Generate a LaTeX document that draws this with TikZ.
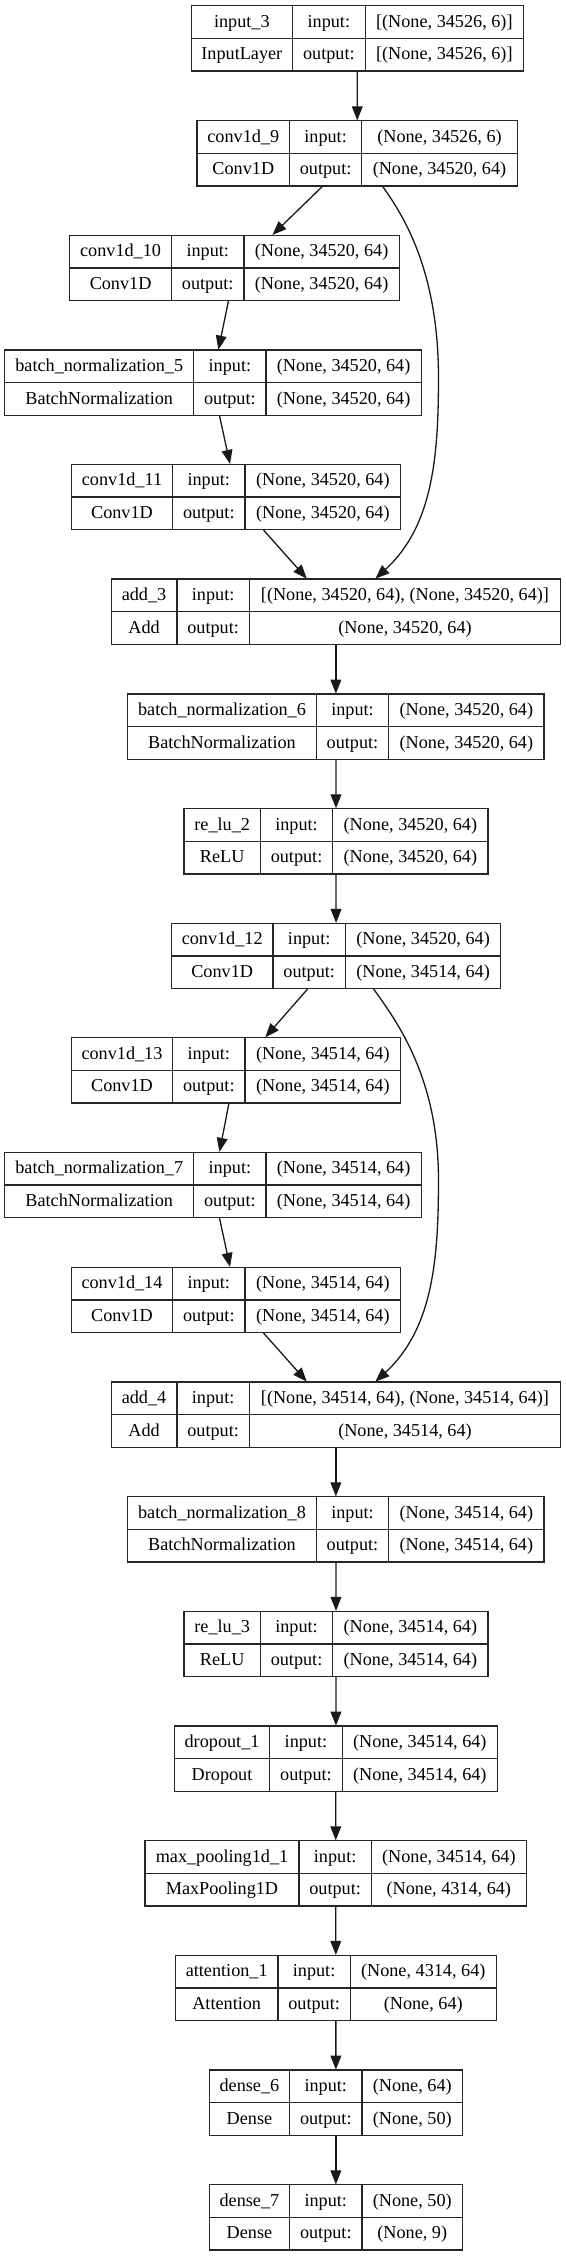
\documentclass[tikz,border=0pt]{standalone}
\usepackage{fontspec}
\setmainfont{Liberation Serif}
\usetikzlibrary{fit,arrows.meta}
\newcommand\lbl{\fontsize{9.1pt}{11pt}\selectfont}
\tikzset{
  boxline/.style={line width=0.65pt,draw=black!85},
  txt/.style={font=\lbl,inner sep=0pt,text height=0.7em,text depth=0.2em},
  edge/.style={line width=0.65pt,draw=black!90,-{Triangle[length=7pt,width=5.4pt]}},
}
% #1 name, #2 x1, #3 x2, #4 x3, #5 x4, #6 ytop, #7 label, #8 type
\newcommand\layer[8]{%
  \draw[boxline] (#2,#6) rectangle (#5,{#6+65.3});
  \draw[boxline] (#2,{#6+32.65}) -- (#5,{#6+32.65});
  \draw[boxline] (#3,#6) -- (#3,{#6+65.3});
  \draw[boxline] (#4,#6) -- (#4,{#6+65.3});
  \node[txt] (#1-name) at ({(#2+#3)/2},{#6+16.3}) {#7};
  \node[txt] (#1-type) at ({(#2+#3)/2},{#6+49}) {#8};
  \node[txt] (#1-in) at ({(#3+#4)/2},{#6+16.3}) {input:};
  \node[txt] (#1-out) at ({(#3+#4)/2},{#6+49}) {output:};
  \coordinate (#1-v1) at ({(#4+#5)/2},{#6+16.3});
  \coordinate (#1-v2) at ({(#4+#5)/2},{#6+49});
  \node[fit={(#2,#6)({#5},{#6+65.3})},inner sep=0pt,draw=none] (#1) {};
}
\newcommand\vals[3]{%
  \node[txt] at (#1-v1) {#2};
  \node[txt] at (#1-v2) {#3};
}
\begin{document}
\begin{tikzpicture}[x=0.5pt,y=-0.5pt]
\useasboundingbox (0,0) rectangle (566,2256);
\fill[white] (0,0) rectangle (566,2256);

\layer{input3}{191.3}{292.4}{365.3}{523.4}{5.7}{input\_3}{InputLayer}
\vals{input3}{[(None, 34526, 6)]}{[(None, 34526, 6)]}
\layer{conv9}{197.1}{289.5}{361.7}{517.3}{120.7}{conv1d\_9}{Conv1D}
\vals{conv9}{(None, 34526, 6)}{(None, 34520, 64)}
\layer{conv10}{69.7}{171.5}{244}{399.2}{235.3}{conv1d\_10}{Conv1D}
\vals{conv10}{(None, 34520, 64)}{(None, 34520, 64)}
\layer{bn5}{4.7}{193.8}{266}{421.3}{350}{batch\_normalization\_5}{BatchNormalization}
\vals{bn5}{(None, 34520, 64)}{(None, 34520, 64)}
\layer{conv11}{71.5}{172.5}{245.1}{400.7}{464.3}{conv1d\_11}{Conv1D}
\vals{conv11}{(None, 34520, 64)}{(None, 34520, 64)}
\layer{add3}{111.2}{176.9}{249.4}{560.6}{579}{add\_3}{Add}
\vals{add3}{[(None, 34520, 64), (None, 34520, 64)]}{(None, 34520, 64)}
\layer{bn6}{127.8}{316.2}{388.8}{544}{694}{batch\_normalization\_6}{BatchNormalization}
\vals{bn6}{(None, 34520, 64)}{(None, 34520, 64)}
\layer{relu2}{184.1}{260.3}{332.8}{488}{808.7}{re\_lu\_2}{ReLU}
\vals{relu2}{(None, 34520, 64)}{(None, 34520, 64)}
\layer{conv12}{171.5}{272.9}{345.5}{500.7}{923.3}{conv1d\_12}{Conv1D}
\vals{conv12}{(None, 34520, 64)}{(None, 34514, 64)}
\layer{conv13}{71.5}{172.5}{245.1}{400.7}{1037.7}{conv1d\_13}{Conv1D}
\vals{conv13}{(None, 34514, 64)}{(None, 34514, 64)}
\layer{bn7}{4.7}{193.8}{266}{421.3}{1152.3}{batch\_normalization\_7}{BatchNormalization}
\vals{bn7}{(None, 34514, 64)}{(None, 34514, 64)}
\layer{conv14}{71.5}{172.5}{245.1}{400.7}{1267.3}{conv1d\_14}{Conv1D}
\vals{conv14}{(None, 34514, 64)}{(None, 34514, 64)}
\layer{add4}{111.2}{176.9}{249.4}{560.6}{1382}{add\_4}{Add}
\vals{add4}{[(None, 34514, 64), (None, 34514, 64)]}{(None, 34514, 64)}
\layer{bn8}{127.8}{316.2}{388.8}{544}{1496.7}{batch\_normalization\_8}{BatchNormalization}
\vals{bn8}{(None, 34514, 64)}{(None, 34514, 64)}
\layer{relu3}{184.1}{260.3}{332.8}{488}{1611.3}{re\_lu\_3}{ReLU}
\vals{relu3}{(None, 34514, 64)}{(None, 34514, 64)}
\layer{drop1}{174.4}{269.7}{342.2}{497.4}{1726}{dropout\_1}{Dropout}
\vals{drop1}{(None, 34514, 64)}{(None, 34514, 64)}
\layer{maxp}{145.1}{298.9}{371.4}{526.3}{1840.7}{max\_pooling1d\_1}{MaxPooling1D}
\vals{maxp}{(None, 34514, 64)}{(None, 4314, 64)}
\layer{att}{175.4}{278}{350.2}{496.3}{1955.3}{attention\_1}{Attention}
\vals{att}{(None, 4314, 64)}{(None, 64)}
\layer{dense6}{209.4}{289.5}{362.1}{462.4}{2070}{dense\_6}{Dense}
\vals{dense6}{(None, 64)}{(None, 50)}
\layer{dense7}{209.4}{289.5}{362.1}{462.4}{2184.7}{dense\_7}{Dense}
\vals{dense7}{(None, 50)}{(None, 9)}

% edges
\draw[edge] (input3) -- (conv9);
\draw[edge] ([xshift=-17.4pt]conv9.south) -- ([xshift=19pt]conv10.north);
\draw[edge] ([xshift=12.7pt]conv9.south) .. controls (407.6,221) and (438,276) .. (438.5,376)
  .. controls (438.5,456) and (433,526) .. ([xshift=19.75pt]add3.north);
\draw[edge] ([xshift=-3pt]conv10.south) -- ([xshift=2.7pt]bn5.north);
\draw[edge] ([xshift=3.25pt]bn5.south) -- ([xshift=-3.05pt]conv11.north);
\draw[edge] ([xshift=13.7pt]conv11.south) -- ([xshift=-14.55pt]add3.north);
\draw[edge] (add3) -- (bn6);
\draw[edge] (bn6) -- (relu2);
\draw[edge] (relu2) -- (conv12);
\draw[edge] ([xshift=-14.25pt]conv12.south) -- ([xshift=14.6pt]conv13.north);
\draw[edge] ([xshift=18.75pt]conv12.south) .. controls (398.6,1023.7) and (438,1078.7) .. (438.5,1178.7)
  .. controls (438.5,1258.7) and (433,1328.7) .. ([xshift=19.75pt]add4.north);
\draw[edge] ([xshift=-3.6pt]conv13.south) -- ([xshift=3.25pt]bn7.north);
\draw[edge] ([xshift=3.25pt]bn7.south) -- ([xshift=-3.05pt]conv14.north);
\draw[edge] ([xshift=13.7pt]conv14.south) -- ([xshift=-14.55pt]add4.north);
\draw[edge] (add4) -- (bn8);
\draw[edge] (bn8) -- (relu3);
\draw[edge] (relu3) -- (drop1);
\draw[edge] (drop1) -- (maxp);
\draw[edge] (maxp) -- (att);
\draw[edge] (att) -- (dense6);
\draw[edge] (dense6) -- (dense7);
\end{tikzpicture}
\end{document}
